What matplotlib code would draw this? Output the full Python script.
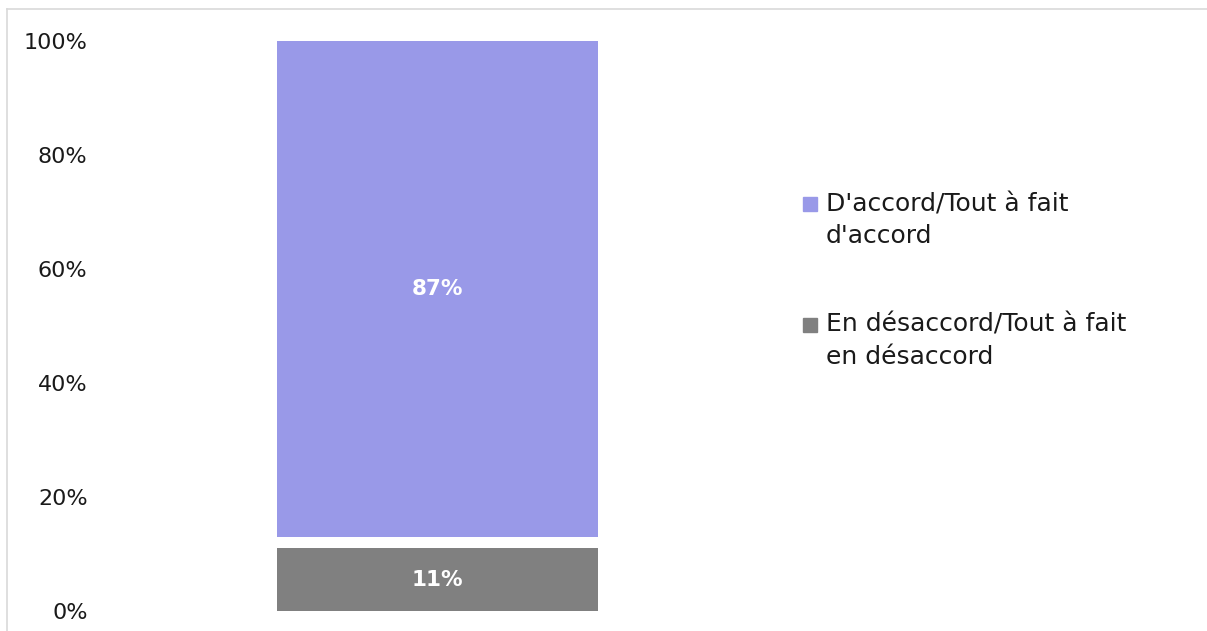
"""
Stacked bar: agreement vs disagreement
"""

import matplotlib
matplotlib.use('Agg')
import matplotlib.pyplot as plt
from matplotlib.patches import Rectangle
from matplotlib.lines import Line2D

plt.rcParams['font.family'] = ['DejaVu Sans']

# Data
categories = ['']
disagree = [11]   # En désaccord/Tout à fait en désaccord
no_answer = [2]   # not shown (white gap)
agree = [87]      # D'accord/Tout à fait d'accord

labels = ["D'accord/Tout à fait\nd'accord", "En désaccord/Tout à fait\nen désaccord"]
colors = ['#9999e8', '#808080']
yticks = [0, 20, 40, 60, 80, 100]

W, H = 1207, 631


def create_plot():
    fig = plt.figure(figsize=(W / 100, H / 100), dpi=100)
    ax = fig.add_axes([100 / W, 20 / H, 675 / W, 570 / H])

    width = 0.477
    ax.bar(categories, disagree, width=width, color=colors[1])
    ax.bar(categories, no_answer, width=width, bottom=disagree, color='white')
    bottom2 = [d + n for d, n in zip(disagree, no_answer)]
    ax.bar(categories, agree, width=width, bottom=bottom2, color=colors[0])

    # value labels
    for i in range(len(categories)):
        ax.text(i, disagree[i] / 2, f'{disagree[i]}%', ha='center', va='center',
                color='white', fontsize=15.5, fontweight='bold')
        ax.text(i, bottom2[i] + agree[i] / 2, f'{agree[i]}%', ha='center', va='center',
                color='white', fontsize=15.5, fontweight='bold')

    ax.set_xlim(-0.5, 0.5)
    ax.set_ylim(0, 100)
    ax.set_yticks(yticks)
    ax.set_yticklabels([f'{t}%' for t in yticks], fontsize=16)
    ax.tick_params(axis='y', length=0, pad=9, colors='#1a1a1a')
    ax.set_xticks([])
    for s in ax.spines.values():
        s.set_visible(False)

    # legend, drawn by hand so the swatch sits on the first line
    first_line_y = [204, 325]
    for lab, col, y0 in zip(labels, colors, first_line_y):
        fig.patches.append(Rectangle((803 / W, 1 - (y0 + 7) / H), 14 / W, 14 / H,
                                     transform=fig.transFigure, color=col))
        for k, line in enumerate(lab.split('\n')):
            fig.text(826 / W, 1 - (y0 + 32 * k) / H, line, ha='left', va='center',
                     fontsize=18, color='#1a1a1a')

    # light chart border (top and left only visible)
    fig.add_artist(Line2D([7 / W, 1], [1 - 9 / H, 1 - 9 / H], transform=fig.transFigure,
                          color='#d9d9d9', linewidth=1.2))
    fig.add_artist(Line2D([7 / W, 7 / W], [0, 1 - 9 / H], transform=fig.transFigure,
                          color='#d9d9d9', linewidth=1.2))

    plt.savefig('out.png', dpi=100)


if __name__ == '__main__':
    create_plot()
